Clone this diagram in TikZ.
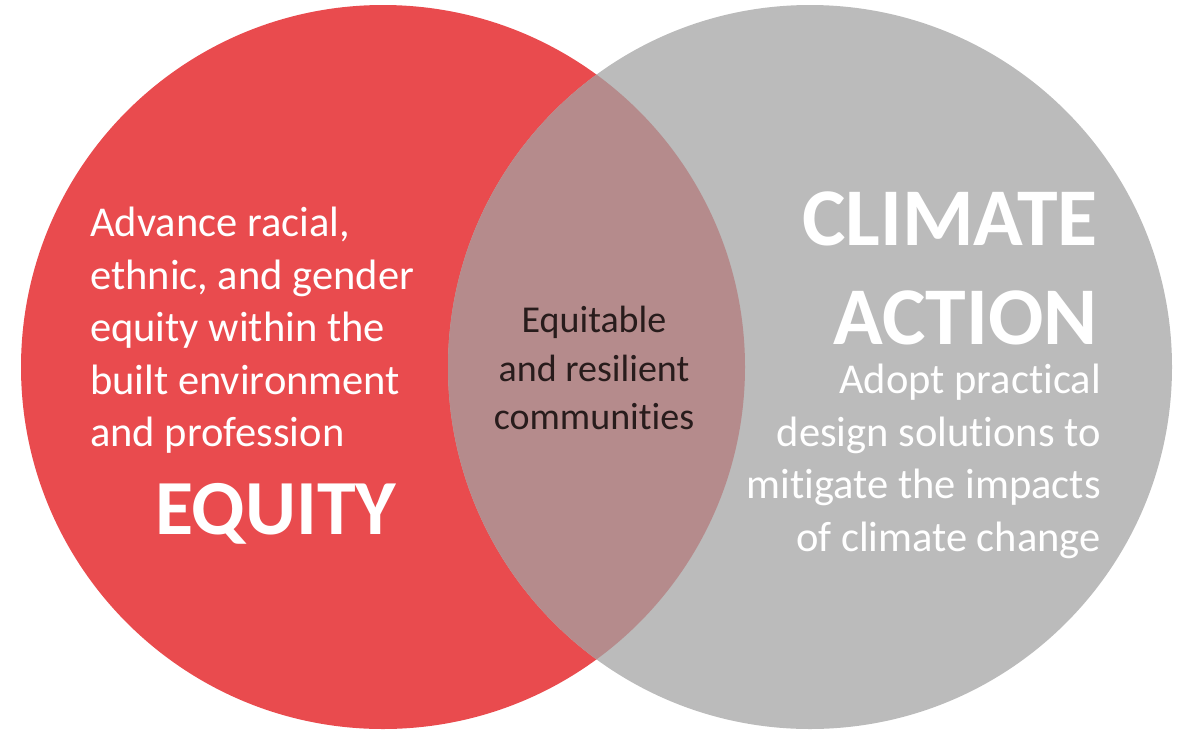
\documentclass[tikz,border=0pt]{standalone}
\usepackage{fontspec}
\setmainfont{Carlito}[Ligatures=NoCommon]
\usetikzlibrary{positioning}

\definecolor{equityred}{RGB}{233,75,78}
\definecolor{climategray}{RGB}{187,187,187}
\definecolor{overlapmauve}{RGB}{181,139,140}
\definecolor{overlaptext}{RGB}{40,28,28}

\tikzset{
    bodytext/.style={inner sep=0pt, text=white, font=\fontsize{42.5}{52.5}\selectfont},
    titletext/.style={inner sep=0pt, text=white, font=\bfseries\fontsize{82}{99}\selectfont},
    midtext/.style={inner sep=0pt, text=overlaptext, align=center, font=\fontsize{38}{48.5}\selectfont}
}

\begin{document}
\begin{tikzpicture}[x=1pt, y=-1pt]
    \useasboundingbox (0,0) rectangle (1181,729);
    \coordinate (eqcenter) at (383,367);
    \coordinate (clcenter) at (810,367);
    \fill[equityred] (eqcenter) circle (362);
    \fill[climategray] (clcenter) circle (362);
    \begin{scope}
      \clip (eqcenter) circle (362);
      \fill[overlapmauve] (clcenter) circle (362);
    \end{scope}

    \node[bodytext, align=left, anchor=north west] (eqdesc) at (90,207)
      {Advance racial,\\ethnic, and gender\\equity within the\\built environment\\and profession};
    \node[titletext, font=\bfseries\fontsize{78}{94}\selectfont, anchor=north west] (eqtitle) at (155,483) {EQUITY};

    \node[midtext, anchor=north] (overlap) at (594,306)
      {Equitable\\and resilient\\communities};

    \node[titletext, align=right, text depth=0pt, anchor=north east] (cltitle) at (1098,192)
      {CLIMATE\\ACTION};
    \node[bodytext, align=right, anchor=north east] (cldesc) at (1101,364)
      {Adopt practical\\design solutions to\\mitigate the impacts\\of climate change};
  \end{tikzpicture}
\end{document}
